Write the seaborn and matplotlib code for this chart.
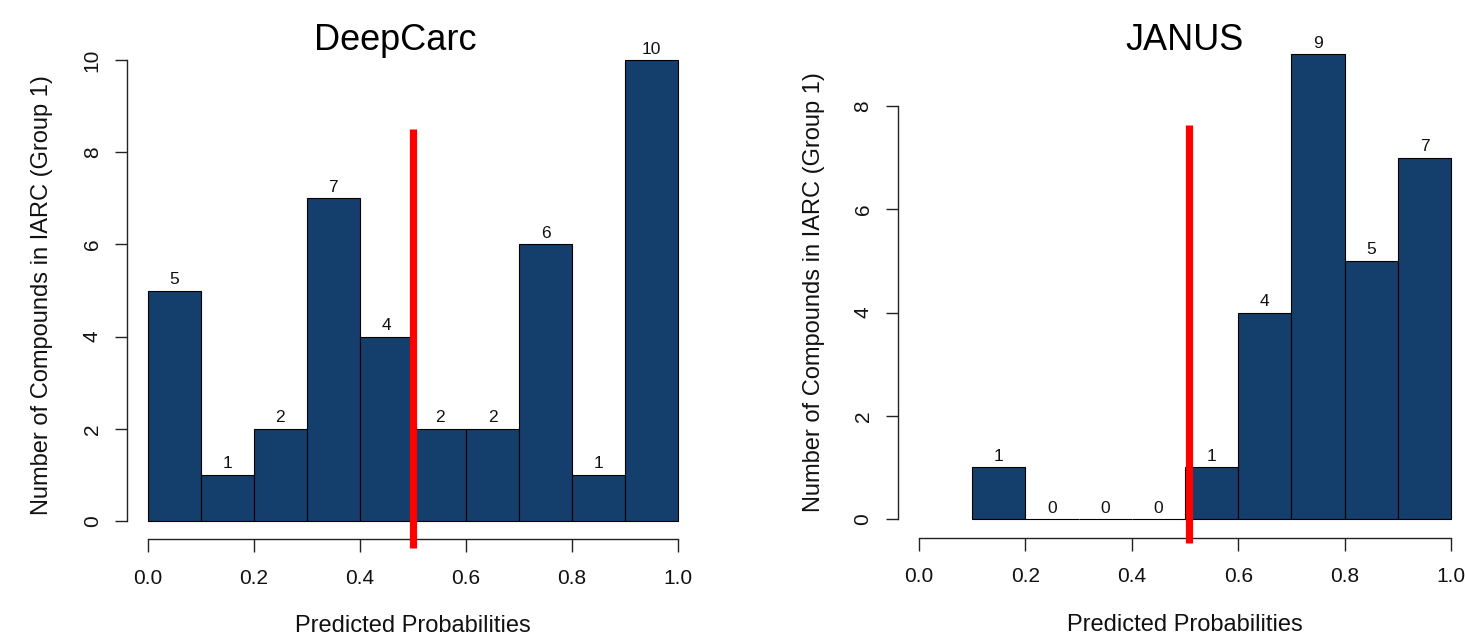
import numpy as np
import pandas as pd
import matplotlib
matplotlib.use("Agg")
import matplotlib.pyplot as plt
import seaborn as sns

# ---- data ----
titles = ["DeepCarc", "JANUS"]
deepcarc_edges = [0.0, 0.1, 0.2, 0.3, 0.4, 0.5, 0.6, 0.7, 0.8, 0.9, 1.0]
deepcarc_counts = [5, 1, 2, 7, 4, 2, 2, 6, 1, 10]
janus_edges = [0.1, 0.2, 0.3, 0.4, 0.5, 0.6, 0.7, 0.8, 0.9, 1.0]
janus_counts = [1, 0, 0, 0, 1, 4, 9, 5, 7]
thresholds = [0.5, 0.507]
threshold_spans = [(-0.59, 8.5), (-0.465, 7.63)]
y_max = [10, 9]
y_ticks = [[0, 2, 4, 6, 8, 10], [0, 2, 4, 6, 8]]
x_ticks = [0.0, 0.2, 0.4, 0.6, 0.8, 1.0]
x_tick_labels = ["0.0", "0.2", "0.4", "0.6", "0.8", "1.0"]
xlabel = "Predicted Probabilities"
ylabel = "Number of Compounds in IARC (Group 1)"

sns.set_theme(style="white")
plt.rcParams["font.family"] = ["Liberation Sans", "DejaVu Sans"]

W, H = 1465, 644
fig = plt.figure(figsize=(W / 100, H / 100), dpi=100)

def px_axes(left, top, right, bottom):
    return fig.add_axes([left / W, 1 - bottom / H, (right - left) / W, (bottom - top) / H])

axes = [px_axes(126.7, 41.6, 699.2, 539.4), px_axes(897.5, 35.8, 1472.5, 537.6)]
bar_color = "#143e6b"
title_x = [0.469, 0.5]
title_y = [0.983, 0.9717]
ylabel_x = [-0.129, -0.126]

datasets = [(deepcarc_edges, deepcarc_counts), (janus_edges, janus_counts)]

for i, ax in enumerate(axes):
    edges, counts = datasets[i]
    centers = [(edges[k] + edges[k + 1]) / 2 for k in range(len(counts))]
    df = pd.DataFrame({"x": centers, "w": counts})
    sns.histplot(data=df, x="x", weights="w", bins=edges, ax=ax,
                 color=bar_color, edgecolor="black", linewidth=0.8, alpha=1.0)
    ax.bar_label(ax.containers[0], labels=[str(c) for c in counts],
                 padding=2.5, fontsize=12.5, color="#111111")
    ymax = y_max[i]
    ax.set_xlim(-0.04, 1.04)
    ax.set_ylim(-0.04 * ymax, 1.04 * ymax)
    for s in ["top", "right"]:
        ax.spines[s].set_visible(False)
    ax.spines["left"].set_bounds(0, y_ticks[i][-1])
    ax.spines["bottom"].set_bounds(0, 1)
    for s in ["left", "bottom"]:
        ax.spines[s].set_color("#222222")
        ax.spines[s].set_linewidth(1.0)
    ax.set_xticks(x_ticks)
    ax.set_xticklabels(x_tick_labels)
    ax.set_yticks(y_ticks[i])
    ax.set_yticklabels([str(t) for t in y_ticks[i]], rotation=90, va="center")
    ax.tick_params(axis="both", which="major", direction="out", length=9,
                   width=1.0, color="#222222", labelsize=15, labelcolor="#111111",
                   bottom=True, left=True)
    ax.tick_params(axis="x", pad=12)
    ax.tick_params(axis="y", pad=9)
    ax.set_xlabel(xlabel, fontsize=17, color="#111111", labelpad=20)
    ax.set_ylabel(ylabel, fontsize=17, color="#111111")
    ax.yaxis.set_label_coords(ylabel_x[i], 0.49)
    ax.set_title(titles[i], fontsize=26, x=title_x[i], y=title_y[i],
                 va="baseline", pad=0, color="black")
    ax.grid(False)
    ax.plot([thresholds[i], thresholds[i]], list(threshold_spans[i]),
            color="red", linewidth=5.2, solid_capstyle="butt",
            clip_on=False, zorder=10)

fig.savefig("out.png", dpi=100)
